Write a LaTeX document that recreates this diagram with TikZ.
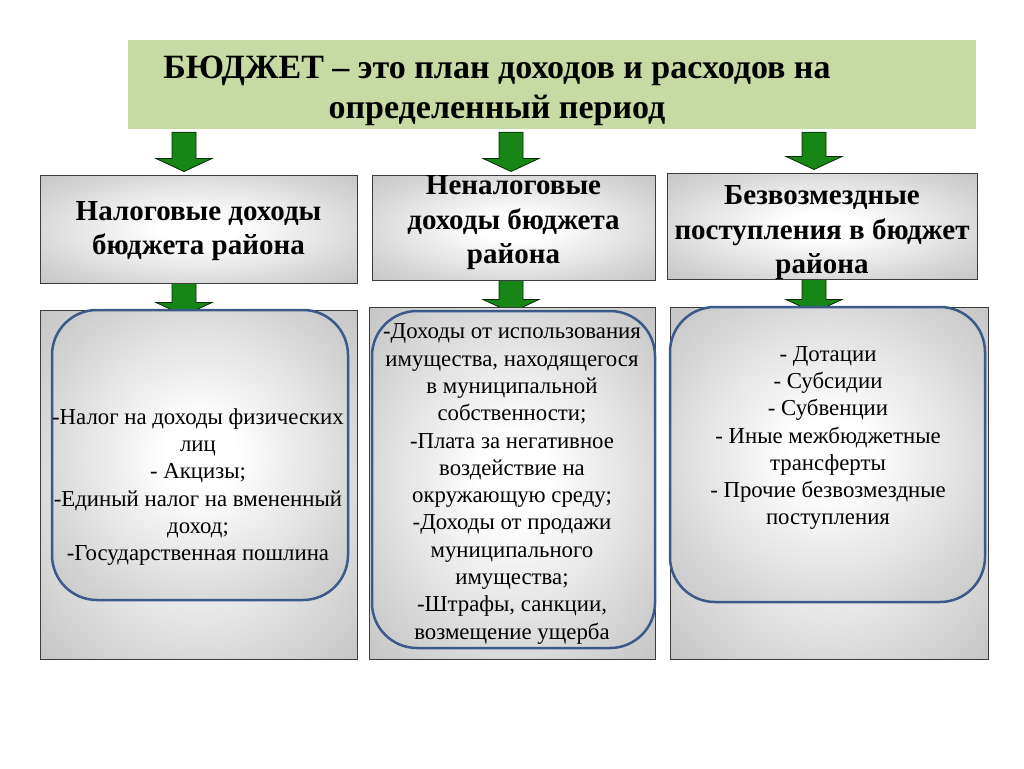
\documentclass[tikz,border=0pt]{standalone}
\usepackage{fontspec}
\setmainfont{Liberation Serif}
\usetikzlibrary{calc,backgrounds}

\definecolor{titlegreen}{RGB}{200,218,163}
\definecolor{arrowgreen}{RGB}{22,134,22}
\definecolor{framegray}{RGB}{60,60,60}
\definecolor{roundblue}{RGB}{59,90,136}
\definecolor{shadegray}{RGB}{188,188,188}

\pgfdeclareradialshading{boxshade}{\pgfpointorigin}{color(0bp)=(white); color(6bp)=(white); color(40bp)=(shadegray); color(50bp)=(shadegray)}

% fat arrow: #1 top of shaft, #2 tip (same x)
\newcommand{\greenarrow}[2]{%
  \draw[fatarrow] ($(#1)+(-12,0)$) -- ($(#1)+(12,0)$) -- ($(#2)+(12,-13)$) -- ($(#2)+(28,-13)$)
    -- (#2) -- ($(#2)+(-28,-13)$) -- ($(#2)+(-12,-13)$) -- cycle;}

\begin{document}
\begin{tikzpicture}[x=1pt,y=-1pt,
    titlebox/.style={fill=titlegreen,draw=none,minimum width=848pt,minimum height=89pt,inner sep=0pt},
    graybox/.style={draw=framegray,line width=1pt,shading=boxshade,inner sep=0pt},
    roundbox/.style={draw=roundblue,line width=2.5pt,rounded corners=45pt,shading=boxshade,inner sep=0pt},
    titletext/.style={align=center,font=\fontsize{34}{40}\selectfont\bfseries},
    headtext/.style={align=center,font=\fontsize{29}{34.5}\selectfont\bfseries},
    listtext/.style={align=center,font=\fontsize{22.8}{27.3}\selectfont},
    fatarrow/.style={fill=arrowgreen,draw=black!70!arrowgreen,line width=0.8pt}]
        \useasboundingbox (0,0) rectangle (1024,768);
        % Title
        \node[titlebox] (title) at (552,84.5) {};
        \node[titletext] (titletxt) at (497,91) {БЮДЖЕТ – это план доходов и расходов на\\определенный период};
        % Headings
        \node[graybox,minimum width=317pt,minimum height=108pt] (h1) at (198.5,229) {};
        \node[graybox,minimum width=283pt,minimum height=105pt] (h2) at (513.5,227.5) {};
        \node[graybox,minimum width=310pt,minimum height=106pt] (h3) at (822,226) {};
        \node[headtext] (h1txt) at (198.5,231) {Налоговые доходы\\бюджета района};
        \node[headtext] (h2txt) at (513.5,223) {Неналоговые\\доходы бюджета\\района};
        \node[headtext] (h3txt) at (822,233) {Безвозмездные\\поступления в бюджет\\района};
        % Lists
        \node[graybox,minimum width=317pt,minimum height=349pt] (b1) at (198.5,484.5) {};
        \node[graybox,minimum width=286pt,minimum height=352pt] (b2) at (512,483) {};
        \node[graybox,minimum width=318pt,minimum height=352pt] (b3) at (829,483) {};
        \node[roundbox,minimum width=296pt,minimum height=290pt] (r1) at (200,455) {};
        \node[roundbox,minimum width=283pt,minimum height=337pt] (r2) at (513.5,479.5) {};
        \node[roundbox,minimum width=315pt,minimum height=295pt] (r3) at (827.5,454.5) {};
        \node[listtext] (l1) at (198,487) {-Налог на доходы физических\\лиц\\- Акцизы;\\-Единый налог на вмененный\\доход;\\-Государственная пошлина};
        \node[listtext] (l2) at (512,484) {-Доходы от использования\\имущества, находящегося\\в муниципальной\\собственности;\\-Плата за негативное\\воздействие на\\окружающую среду;\\-Доходы от продажи\\муниципального\\имущества;\\-Штрафы, санкции,\\возмещение ущерба};
        \node[listtext] (l3) at (828,438) {- Дотации\\- Субсидии\\- Субвенции\\- Иные межбюджетные\\трансферты\\- Прочие безвозмездные\\поступления};
        % Arrows
        \coordinate (c1) at (184,0);
        \coordinate (c2) at (511,0);
        \coordinate (c3) at (814,0);
        \begin{scope}[on background layer]
        \fill[white] (0,0) rectangle (1024,768);
        \foreach \i in {1,2,3} {
          \coordinate (top\i) at ($(title.south -| c\i)+(0,3)$);
          \coordinate (tip\i) at ($(h\i.north -| c\i)+(0,-3)$);
          \greenarrow{top\i}{tip\i}
          \coordinate (low\i) at (h\i.south -| c\i);
          \coordinate (lowtip\i) at ($(b\i.north -| c\i)+(0,6)$);
          \greenarrow{low\i}{lowtip\i}
        }
        \end{scope}
\end{tikzpicture}
\end{document}
